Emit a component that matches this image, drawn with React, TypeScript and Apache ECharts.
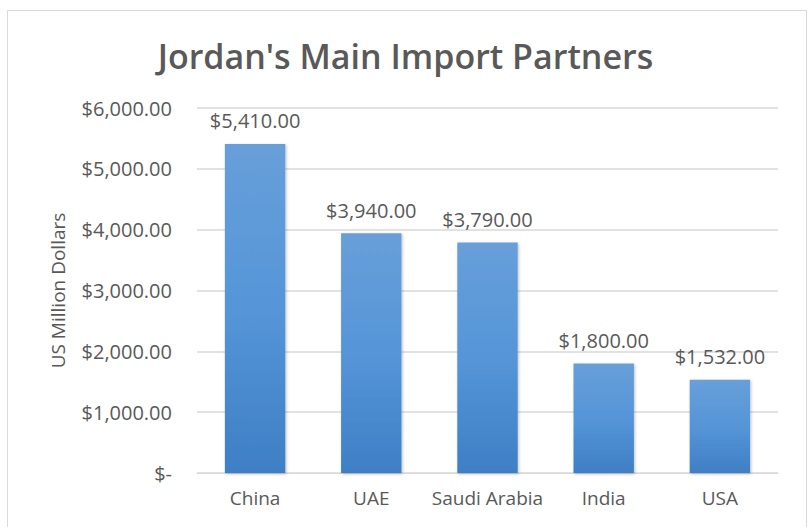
import React, { useEffect, useRef } from "react";
import * as echarts from "echarts";

const categories = ["China", "UAE", "Saudi Arabia", "India", "USA"];
const values = [5410, 3940, 3790, 1800, 1532];
const yTicks = [0, 1000, 2000, 3000, 4000, 5000, 6000];

const fmt = (v: number) =>
  v === 0
    ? "$-"
    : "$" + v.toLocaleString("en-US", { minimumFractionDigits: 2, maximumFractionDigits: 2 });

export default function App() {
  const ref = useRef<HTMLDivElement>(null);
  useEffect(() => {
    document.body.style.margin = "0";
    const chart = echarts.init(ref.current!, null, { renderer: "svg" });
    const font = "Open Sans";
    chart.setOption({
      animation: false,
      backgroundColor: "#ffffff",
      graphic: [
        {
          type: "rect",
          shape: { x: 7.5, y: 10.5, width: 799, height: 540 },
          style: { fill: "none", stroke: "#d9d9d9", lineWidth: 1 },
          silent: true,
        },
      ],
      title: {
        text: "Jordan's Main Import Partners",
        left: "center",
        top: 34,
        textStyle: { fontFamily: font, fontSize: 34, fontWeight: 600, color: "#595959" },
      },
      grid: { left: 197, right: 33, top: 108, bottom: 54, containLabel: false },
      xAxis: {
        type: "category",
        data: categories,
        axisLine: { lineStyle: { color: "#d9d9d9" } },
        axisTick: { show: false },
        axisLabel: { interval: 0, fontFamily: font, fontSize: 19, color: "#595959", margin: 15 },
      },
      yAxis: {
        type: "value",
        min: yTicks[0],
        max: yTicks[yTicks.length - 1],
        interval: 1000,
        name: "US Million Dollars",
        nameLocation: "middle",
        nameGap: 130,
        nameTextStyle: { fontFamily: font, fontSize: 19, color: "#595959" },
        axisLine: { show: false },
        axisTick: { show: false },
        splitLine: { lineStyle: { color: "#d9d9d9", width: 1.5 } },
        axisLabel: {
          fontFamily: font,
          fontSize: 20,
          color: "#595959",
          margin: 25,
          formatter: (v: number) => fmt(v),
        },
      },
      series: [
        {
          type: "bar",
          data: values,
          barWidth: "52%",
          itemStyle: {
            color: new echarts.graphic.LinearGradient(0, 0, 0, 1, [
              { offset: 0, color: "#689fd9" },
              { offset: 0.5, color: "#5595d8" },
              { offset: 1, color: "#3e7fc5" },
            ]),
            shadowColor: "rgba(0,0,0,0.25)",
            shadowBlur: 3,
            shadowOffsetX: 1,
            shadowOffsetY: 1,
          },
          label: {
            show: true,
            position: "top",
            distance: 13,
            fontFamily: font,
            fontSize: 20,
            color: "#595959",
            formatter: (p: any) => fmt(p.value),
          },
        },
      ],
    });
    return () => chart.dispose();
  }, []);
  return <div ref={ref} style={{ width: 811, height: 527 }} />;
}
